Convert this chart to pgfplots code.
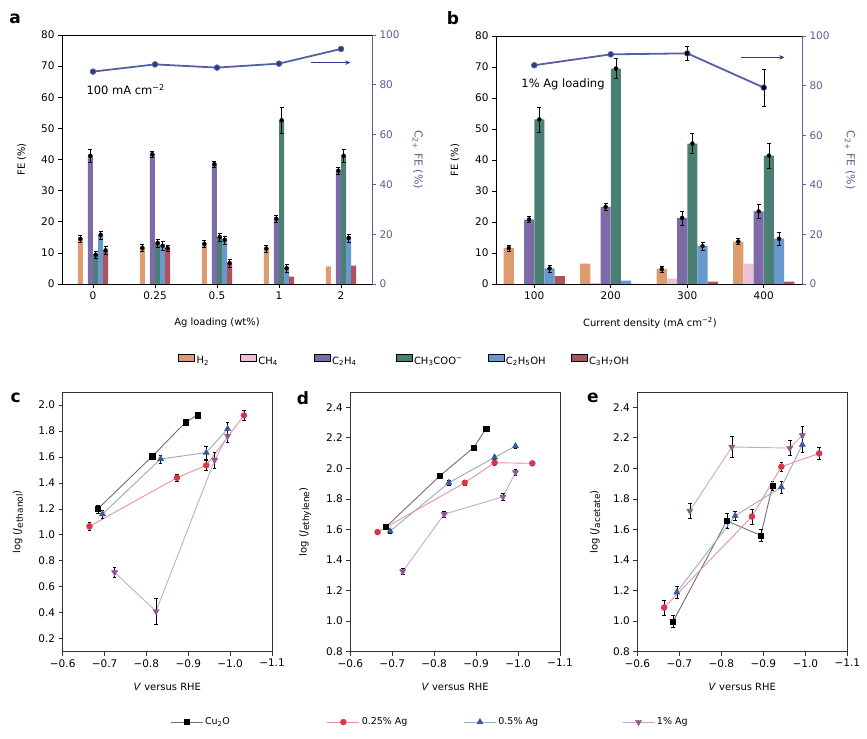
\documentclass[border=0pt]{standalone}
\usepackage{fontspec}
\setmainfont{DejaVu Sans}
\setsansfont{DejaVu Sans}
\usepackage{pgfplots}
\pgfplotsset{compat=1.18}
\usetikzlibrary{arrows.meta}

\definecolor{cH}{HTML}{DE9B6E}
\definecolor{cCH}{HTML}{ECC0D6}
\definecolor{cEt}{HTML}{7D6BA8}
\definecolor{cAc}{HTML}{4A8073}
\definecolor{cEo}{HTML}{6898CC}
\definecolor{cPr}{HTML}{B0525C}
\definecolor{cLine}{HTML}{5560A0}
\definecolor{cMk}{HTML}{2E3A8C}
\definecolor{cRax}{HTML}{5A6090}
\definecolor{cR}{HTML}{D9354B}
\definecolor{cRl}{HTML}{E8949C}
\definecolor{cB}{HTML}{3C5A98}
\definecolor{cBl}{HTML}{9AA8C8}
\definecolor{cP}{HTML}{8C5A8C}
\definecolor{cPl}{HTML}{C8A8C8}
\definecolor{cK}{HTML}{707070}
\definecolor{frm}{HTML}{333333}

\newcommand{\fs}[1]{\fontsize{#1bp}{#1bp}\selectfont}
\newcommand{\bsub}[1]{\raisebox{-2.4bp}{\fs{9}#1}}

\pgfplotsset{
  common/.style={scale only axis, clip=false,
    /pgf/number format/assume math mode=true,
    tick align=outside, major tick length=4bp,
    ticklabel style={font=\fs{10.5}},
    label style={font=\fs{11}}},
  barax/.style={common, ymin=0, ymax=80, ytick={0,10,...,80}, tick pos=left,
    axis line style={black, line width=0.8pt}, tick style={black, line width=0.7pt}},
  rax/.style={common, ymin=0, ymax=100, ytick={0,20,...,100},
    axis x line=none, axis y line*=right,
    y axis line style={cRax, line width=0.8pt}, ytick style={cRax, line width=0.7pt},
    yticklabel style={text=cRax}},
  errs/.style={only marks, mark=none, black,
    /pgfplots/error bars/y dir=both, /pgfplots/error bars/y explicit,
    /pgfplots/error bars/error bar style={black, line width=0.45bp},
    /pgfplots/error bars/error mark options={black, rotate=90, mark size=2bp, line width=0.45bp}},
  eb/.style={/pgfplots/error bars/y dir=both, /pgfplots/error bars/y explicit,
    /pgfplots/error bars/error bar style={black, line width=0.5bp},
    /pgfplots/error bars/error mark options={black, rotate=90, mark size=1.8bp, line width=0.5bp}},
  c2line/.style={color=cLine, line width=1.8bp, mark=*, mark size=2.8bp,
    mark options={fill=cMk, draw=cLine, line width=0.8bp}},
  logax/.style={common, height=259.7bp, xmin=-1.1, xmax=-0.6, x dir=reverse,
    label style={font=\fs{11.5}},
    xtick={-0.6,-0.7,-0.8,-0.9,-1.0,-1.1},
    xticklabels={−0.6,−0.7,−0.8,−0.9,−1.0,−1.1},
    yticklabel={\pgfmathprintnumber[fixed,fixed zerofill,precision=1,assume math mode=true]{\tick}},
    tick pos=left, axis line style={frm, line width=0.9pt}, tick style={frm, line width=0.7pt},
    xlabel={\textit{V} versus RHE},
    every axis x label/.style={at={(axis description cs:0.5,-0.136)}, anchor=center}},
  sK/.style={color=cK, line width=0.9bp, mark=square*, mark size=2.6bp,
    mark options={fill=black, draw=black, line width=0.4bp}, eb},
  sR/.style={color=cRl, line width=0.9bp, mark=*, mark size=3bp,
    mark options={fill=cR, draw=cR, line width=0.4bp}, eb},
  sB/.style={color=cBl, line width=0.9bp, mark=triangle*, mark size=3.6bp,
    mark options={fill=cB, draw=cB, line width=0.4bp}, eb},
  sP/.style={color=cPl, line width=0.9bp, mark=triangle*, mark size=3.6bp,
    mark options={fill=cP, draw=cP, line width=0.4bp, rotate=180}, eb},
}

\begin{document}
\begin{tikzpicture}
\path[use as bounding box] (0bp,0bp) rectangle (867bp,739bp);

% ---------------- panel a : bars ----------------
\begin{axis}[barax, at={(62bp,455bp)}, anchor=south west, width=310bp, height=249bp,
  xmin=-0.5, xmax=4.5, xtick={0,1,2,3,4}, xticklabels={0,0.25,0.5,1,2},
  ylabel={FE (\%)}, xlabel={Ag loading (wt\%)},
  every axis y label/.style={at={(axis description cs:-0.13,0.5)}, rotate=90, anchor=center},
  every axis x label/.style={at={(axis description cs:0.5,-0.157)}, anchor=center},
  legend columns=6,
  legend style={at={(axis description cs:0.374,-0.309)}, anchor=west, draw=none, fill=none,
    inner sep=0pt, font=\fs{10},
    /tikz/column 2/.style={column sep=29bp},
    /tikz/column 4/.style={column sep=34bp},
    /tikz/column 6/.style={column sep=37bp},
    /tikz/column 8/.style={column sep=23bp},
    /tikz/column 10/.style={column sep=23bp}},
  legend image code/.code={\draw[#1,/tikz/.cd] (0bp,-0.5bp) rectangle (16bp,6.5bp);}]
\addplot[ybar, bar width=0.082, bar shift=-0.204, fill=cH, draw=none]
  coordinates {(0,14.5)(1,11.6)(2,12.9)(3,11.4)(4,5.7)};
\addplot[ybar, bar width=0.082, bar shift=-0.124, fill=cCH, draw=none]
  coordinates {(0,0)(1,0)(2,0)(3,0)(4,0)};
\addplot[ybar, bar width=0.082, bar shift=-0.043, fill=cEt, draw=none]
  coordinates {(0,41.2)(1,41.7)(2,38.5)(3,21.0)(4,36.4)};
\addplot[ybar, bar width=0.082, bar shift=0.043, fill=cAc, draw=none]
  coordinates {(0,9.4)(1,13.2)(2,15.1)(3,52.6)(4,41.2)};
\addplot[ybar, bar width=0.082, bar shift=0.124, fill=cEo, draw=none]
  coordinates {(0,15.8)(1,12.3)(2,14.2)(3,5.1)(4,14.8)};
\addplot[ybar, bar width=0.082, bar shift=0.204, fill=cPr, draw=none]
  coordinates {(0,10.8)(1,11.5)(2,6.7)(3,2.35)(4,5.9)};
\legend{H\textsubscript{2},CH\textsubscript{4},C\textsubscript{2}H\textsubscript{4},CH\textsubscript{3}COO\textsuperscript{−},C\textsubscript{2}H\textsubscript{5}OH,C\textsubscript{3}H\textsubscript{7}OH}
\addplot[forget plot, errs] coordinates {(-0.204,14.5)+-(0,1.2) (0.796,11.6)+-(0,1.2) (1.796,12.9)+-(0,1.2) (2.796,11.4)+-(0,1.2)};
\addplot[forget plot, errs] coordinates {(-0.043,41.2)+-(0,2) (0.957,41.7)+-(0,1) (1.957,38.5)+-(0,1) (2.957,21.0)+-(0,1) (3.957,36.4)+-(0,1)};
\addplot[forget plot, errs] coordinates {(0.043,9.4)+-(0,1.2) (1.043,13.2)+-(0,1.3) (2.043,15.1)+-(0,1.2) (3.043,52.6)+-(0,4.2) (4.043,41.2)+-(0,2)};
\addplot[forget plot, errs] coordinates {(0.124,15.8)+-(0,1.3) (1.124,12.3)+-(0,1.3) (2.124,14.2)+-(0,1.3) (3.124,5.1)+-(0,1.2) (4.124,14.8)+-(0,1.3)};
\addplot[forget plot, errs] coordinates {(0.204,10.8)+-(0,1.3) (1.204,11.5)+-(0,1) (2.204,6.7)+-(0,1.2)};
\node[anchor=west, font=\fs{11.5}] at (axis cs:-0.16,62.4) {100 mA cm\textsuperscript{−2}};
\end{axis}

\begin{axis}[rax, at={(62bp,455bp)}, anchor=south west, width=310bp, height=249bp,
  xmin=-0.5, xmax=4.5]
\addplot[c2line] coordinates {(0,85.3)(1,88.2)(2,86.9)(3,88.5)(4,94.4)};
\draw[cMk, line width=1.3bp, -{Stealth[length=5bp,width=4.5bp]}] (axis cs:3.51,88.9) -- (axis cs:4.15,88.9);
\node[rotate=-90, text=cRax, font=\fs{11}] at (axis description cs:1.148,0.5) {C\textsubscript{2+} FE (\%)};
\end{axis}

% ---------------- panel b : bars ----------------
\begin{axis}[barax, at={(496bp,455bp)}, anchor=south west, width=306bp, height=248bp,
  xmin=-0.5, xmax=3.5, xtick={0,1,2,3}, xticklabels={100,200,300,400},
  ylabel={FE (\%)}, xlabel={Current density (mA cm\textsuperscript{−2})},
  every axis y label/.style={at={(axis description cs:-0.134,0.5)}, rotate=90, anchor=center},
  every axis x label/.style={at={(axis description cs:0.503,-0.157)}, anchor=center}]
\addplot[ybar, bar width=0.133, bar shift=-0.333, fill=cH, draw=none]
  coordinates {(0,11.6)(1,6.6)(2,4.8)(3,13.7)};
\addplot[ybar, bar width=0.133, bar shift=-0.2, fill=cCH, draw=none]
  coordinates {(0,0)(1,0.3)(2,1.7)(3,6.6)};
\addplot[ybar, bar width=0.133, bar shift=-0.067, fill=cEt, draw=none]
  coordinates {(0,20.8)(1,24.9)(2,21.3)(3,23.4)};
\addplot[ybar, bar width=0.133, bar shift=0.067, fill=cAc, draw=none]
  coordinates {(0,53.1)(1,69.5)(2,45.3)(3,41.4)};
\addplot[ybar, bar width=0.133, bar shift=0.2, fill=cEo, draw=none]
  coordinates {(0,5.0)(1,1.1)(2,12.2)(3,14.6)};
\addplot[ybar, bar width=0.133, bar shift=0.333, fill=cPr, draw=none]
  coordinates {(0,2.5)(1,0)(2,0.75)(3,0.75)};
\addplot[forget plot, errs] coordinates {(-0.333,11.6)+-(0,1) (1.667,4.8)+-(0,1) (2.667,13.7)+-(0,1)};
\addplot[forget plot, errs] coordinates {(-0.067,20.8)+-(0,1) (0.933,24.9)+-(0,1) (1.933,21.3)+-(0,2.3) (2.933,23.4)+-(0,2.2)};
\addplot[forget plot, errs] coordinates {(0.067,53.1)+-(0,4) (1.067,69.5)+-(0,3.2) (2.067,45.3)+-(0,3.2) (3.067,41.4)+-(0,4.1)};
\addplot[forget plot, errs] coordinates {(0.2,5.0)+-(0,1.2) (2.2,12.2)+-(0,1.2) (3.2,14.6)+-(0,2.2)};
\node[anchor=west, font=\fs{11.5}] at (axis cs:-0.213,64.3) {1\% Ag loading};
\end{axis}

\begin{axis}[rax, at={(496bp,455bp)}, anchor=south west, width=306bp, height=248bp,
  xmin=-0.5, xmax=3.5]
\addplot[c2line] coordinates {(0,88.2)(1,92.6)(2,93.0)(3,79.2)};
\addplot[forget plot, errs] coordinates {(2,93.0)+-(0,2.8) (3,79.2)+-(0,7.4)};
\draw[cMk, line width=1.3bp, -{Stealth[length=5bp,width=4.5bp]}] (axis cs:2.707,91.4) -- (axis cs:3.27,91.4);
\node[rotate=-90, text=cRax, font=\fs{11}] at (axis description cs:1.157,0.5) {C\textsubscript{2+} FE (\%)};
\end{axis}

% ---------------- panel c ----------------
\begin{axis}[logax, at={(62.7bp,87.3bp)}, anchor=south west, width=209.3bp,
  ymin=0.1, ymax=2.1, ytick={0.2,0.4,0.6,0.8,1.0,1.2,1.4,1.6,1.8,2.0},
  ylabel={log (\textit{J}\bsub{ethanol})},
  every axis y label/.style={at={(axis description cs:-0.214,0.5)}, rotate=90, anchor=center}]
\addplot[sK] coordinates {(-0.684,1.20)+-(0,0.03) (-0.814,1.605)+-(0,0.01) (-0.894,1.868)+-(0,0.01) (-0.922,1.922)+-(0,0.01)};
\addplot[sR] coordinates {(-0.664,1.065)+-(0,0.03) (-0.873,1.44)+-(0,0.03) (-0.943,1.535)+-(0,0.04) (-1.033,1.92)+-(0,0.04)};
\addplot[sB] coordinates {(-0.695,1.16)+-(0,0.03) (-0.834,1.584)+-(0,0.03) (-0.943,1.633)+-(0,0.05) (-0.994,1.816)+-(0,0.05)};
\addplot[sP] coordinates {(-0.724,0.711)+-(0,0.04) (-0.823,0.411)+-(0,0.1) (-0.963,1.576)+-(0,0.06) (-0.994,1.76)+-(0,0.05)};
\end{axis}

% ---------------- panel d ----------------
\begin{axis}[logax, at={(350.3bp,87.3bp)}, anchor=south west, width=209.7bp,
  ymin=0.8, ymax=2.5, ytick={0.8,1.0,1.2,1.4,1.6,1.8,2.0,2.2,2.4},
  ylabel={log (\textit{J}\bsub{ethylene})},
  every axis y label/.style={at={(axis description cs:-0.216,0.5)}, rotate=90, anchor=center},
  legend columns=4,
  legend style={at={(axis description cs:-0.86,-0.271)}, anchor=west, draw=none, fill=none,
    inner sep=0pt, font=\fs{9.5},
    /tikz/column 2/.style={column sep=95bp},
    /tikz/column 4/.style={column sep=54bp},
    /tikz/column 6/.style={column sep=82bp}},
  legend image code/.code={\draw[mark repeat=2,mark phase=2,#1] plot coordinates {(0bp,0bp) (16bp,0bp) (32bp,0bp)};}]
\addplot[sK] coordinates {(-0.685,1.617)+-(0,0.01) (-0.814,1.952)+-(0,0.01) (-0.894,2.136)+-(0,0.01) (-0.924,2.262)+-(0,0.015)};
\addplot[sR] coordinates {(-0.665,1.583)+-(0,0.015) (-0.873,1.906)+-(0,0.015) (-0.944,2.037)+-(0,0.015) (-1.034,2.033)+-(0,0.015)};
\addplot[sB] coordinates {(-0.695,1.589)+-(0,0.015) (-0.835,1.906)+-(0,0.015) (-0.944,2.072)+-(0,0.015) (-0.994,2.146)+-(0,0.015)};
\addplot[sP] coordinates {(-0.725,1.325)+-(0,0.02) (-0.824,1.70)+-(0,0.02) (-0.964,1.814)+-(0,0.02) (-0.994,1.974)+-(0,0.02)};
\legend{Cu\textsubscript{2}O,0.25\% Ag,0.5\% Ag,1\% Ag}
\end{axis}

% ---------------- panel e ----------------
\begin{axis}[logax, at={(637.3bp,87.3bp)}, anchor=south west, width=210bp,
  ymin=0.8, ymax=2.5, ytick={0.8,1.0,1.2,1.4,1.6,1.8,2.0,2.2,2.4},
  ylabel={log (\textit{J}\bsub{acetate})},
  every axis y label/.style={at={(axis description cs:-0.201,0.5)}, rotate=90, anchor=center}]
\addplot[sK] coordinates {(-0.685,0.997)+-(0,0.04) (-0.813,1.657)+-(0,0.05) (-0.894,1.561)+-(0,0.04) (-0.922,1.888)+-(0,0.03)};
\addplot[sR] coordinates {(-0.664,1.089)+-(0,0.05) (-0.873,1.685)+-(0,0.05) (-0.943,2.011)+-(0,0.03) (-1.033,2.098)+-(0,0.04)};
\addplot[sB] coordinates {(-0.694,1.189)+-(0,0.04) (-0.833,1.69)+-(0,0.03) (-0.943,1.878)+-(0,0.04) (-0.993,2.155)+-(0,0.05)};
\addplot[sP] coordinates {(-0.725,1.722)+-(0,0.05) (-0.825,2.14)+-(0,0.07) (-0.963,2.133)+-(0,0.05) (-0.993,2.216)+-(0,0.06)};
\end{axis}

% panel letters
\node[font=\bfseries\fs{17}] at (15bp,720.3bp) {a};
\node[font=\bfseries\fs{17}] at (453bp,721.3bp) {b};
\node[font=\bfseries\fs{17}] at (15.7bp,341bp) {c};
\node[font=\bfseries\fs{17}] at (303bp,341bp) {d};
\node[font=\bfseries\fs{17}] at (593bp,341bp) {e};
\end{tikzpicture}
\end{document}
